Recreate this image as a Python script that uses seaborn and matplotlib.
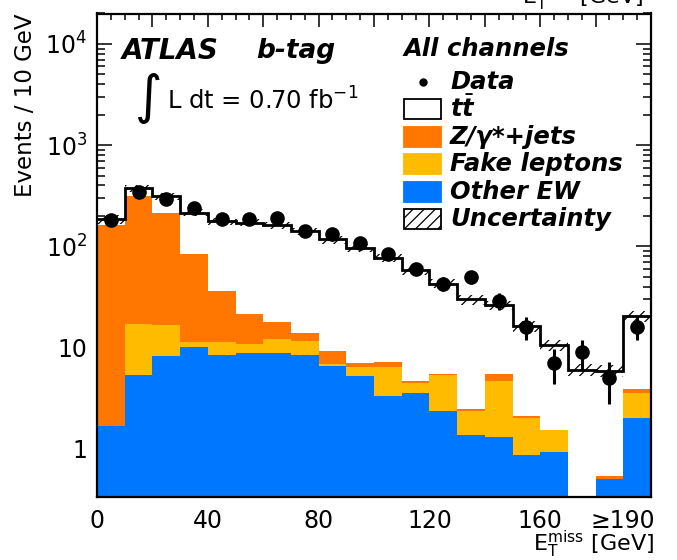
import matplotlib
matplotlib.use("Agg")
import numpy as np
import pandas as pd
import matplotlib.pyplot as plt
import seaborn as sns
from matplotlib.patches import Rectangle
from matplotlib.lines import Line2D
from matplotlib.ticker import (FixedLocator, FixedFormatter, MultipleLocator,
                               LogLocator, NullFormatter)

# ---------------- data ----------------
bin_edges = [0, 10, 20, 30, 40, 50, 60, 70, 80, 90, 100,
             110, 120, 130, 140, 150, 160, 170, 180, 190, 200]
other_ew = [1.69, 5.4, 8.3, 10.1, 8.4, 8.9, 8.9, 8.4, 6.6, 5.3,
            3.3, 3.6, 2.39, 1.38, 1.31, 0.87, 0.94, 0.0, 0.51, 2.01]
fake_leptons = [0.0, 11.9, 8.3, 1.3, 3.0, 1.9, 3.4, 3.2, 0.3, 1.2,
                3.1, 0.9, 3.0, 1.0, 3.4, 1.13, 0.6, 0.0, 0.0, 1.55]
z_jets = [160.3, 297.7, 195.4, 72.6, 25.3, 10.6, 5.7, 2.3, 2.4, 0.6,
          0.8, 0.2, 0.05, 0.12, 0.8, 0.1, 0.0, 0.0, 0.03, 0.37]
ttbar = [23.0, 60.0, 103.0, 131.0, 141.0, 151.0, 144.0, 128.0, 108.0, 90.0,
         70.0, 54.0, 37.5, 27.5, 20.7, 14.2, 9.0, 6.05, 5.4, 16.5]
data_counts = [182, 345, 292, 242, 188, 188, 189, 142, 133, 107,
               85, 60, 43, 50, 29, 16, 7, 9, 5, 16]
uncertainty_rel = [0.10, 0.09, 0.08, 0.08, 0.08, 0.08, 0.08, 0.08, 0.09, 0.09,
                   0.09, 0.10, 0.10, 0.11, 0.11, 0.12, 0.12, 0.13, 0.13, 0.12]

x_major_ticks = [0, 20, 40, 60, 80, 100, 120, 140, 160, 180, 200]
x_tick_labels = ["0", "", "40", "", "80", "", "120", "", "160", "", ""]
overflow_label = "\u2265190"
y_major_ticks = [1, 10, 100, 1000, 10000]
y_tick_labels = ["1", "10", r"$\mathregular{10^{2}}$", r"$\mathregular{10^{3}}$",
                 r"$\mathregular{10^{4}}$"]

component_names = ["tt", "Z/\u03b3*+jets", "Fake leptons", "Other EW"]
component_colors = ["#ffffff", "#ff7600", "#ffbb00", "#0077ff"]

# ---------------- style ----------------
sns.set_theme(style="ticks")
plt.rcParams["font.family"] = ["DejaVu Sans"]
plt.rcParams["mathtext.fontset"] = "custom"
plt.rcParams["mathtext.rm"] = "DejaVu Sans"
plt.rcParams["mathtext.it"] = "DejaVu Sans:italic:bold"
plt.rcParams["mathtext.bf"] = "DejaVu Sans:bold"
plt.rcParams["hatch.linewidth"] = 0.9
plt.rcParams["axes.linewidth"] = 1.6
plt.rcParams["text.color"] = "black"
plt.rcParams["axes.labelcolor"] = "black"
plt.rcParams["xtick.color"] = "black"
plt.rcParams["ytick.color"] = "black"

W, H = 677, 560
fig = plt.figure(figsize=(W / 100, H / 100), dpi=100)
ax = fig.add_axes([97 / W, 63 / H, 554 / W, 483.5 / H])

def fx(px):
    return px / W

def fy(py):
    return 1 - py / H

# ---------------- stacked histogram ----------------
centers = [(a + b) / 2 for a, b in zip(bin_edges[:-1], bin_edges[1:])]
rows = []
for name, vals in zip(component_names, [ttbar, z_jets, fake_leptons, other_ew]):
    for c, v in zip(centers, vals):
        rows.append({"x": c, "w": v, "comp": name})
df = pd.DataFrame(rows)

sns.histplot(data=df, x="x", weights="w", hue="comp", hue_order=component_names,
             multiple="stack", bins=bin_edges, element="step", fill=True,
             palette=dict(zip(component_names, component_colors)), alpha=1,
             linewidth=0, legend=False, ax=ax)

total = np.array(ttbar) + np.array(z_jets) + np.array(fake_leptons) + np.array(other_ew)
unc = np.array(uncertainty_rel)

ax.stairs(total * (1 + unc), bin_edges, baseline=total * (1 - unc), fill=True,
          hatch="///", facecolor="none", edgecolor="black", linewidth=0, zorder=3)
ax.stairs(total, bin_edges, baseline=None, color="black", linewidth=2.0, zorder=4)

counts = np.array(data_counts, dtype=float)
ax.errorbar(centers, counts, yerr=np.sqrt(counts), fmt="o", color="black",
            markersize=9.5, elinewidth=2.2, capsize=0, zorder=5)

# ---------------- axes ----------------
ax.set_yscale("log")
ax.set_xlim(0, 200)
ax.set_ylim(0.335, 2.0e4)
ax.xaxis.set_major_locator(FixedLocator(x_major_ticks))
ax.xaxis.set_major_formatter(FixedFormatter(x_tick_labels))
ax.xaxis.set_minor_locator(MultipleLocator(5))
ax.yaxis.set_major_locator(FixedLocator(y_major_ticks))
ax.yaxis.set_major_formatter(FixedFormatter(y_tick_labels))
ax.yaxis.set_minor_locator(LogLocator(base=10, subs=range(2, 10), numticks=20))
ax.yaxis.set_minor_formatter(NullFormatter())
ax.tick_params(which="both", direction="in", top=True, right=True, width=1.1,
               color="black")
ax.tick_params(axis="x", which="major", length=9, labelsize=17, pad=9)
ax.tick_params(axis="x", which="minor", length=4.5)
ax.tick_params(axis="y", which="major", length=11, labelsize=17, pad=7)
ax.tick_params(axis="y", which="minor", length=6)
for s in ax.spines.values():
    s.set_color("black")
    s.set_zorder(6)

ax.annotate(overflow_label, xy=(190, 0), xycoords=("data", "axes fraction"),
            xytext=(0, -9), textcoords="offset points", ha="center", va="top",
            fontsize=17)

xlabel = r"$\mathregular{E_{T}^{miss}}$ [GeV]"
ax.set_xlabel(xlabel, loc="right", fontsize=16)
ax.xaxis.label.set_verticalalignment("baseline")
ax.xaxis.set_label_coords(1.006, -0.1125)
ax.set_ylabel("Events / 10 GeV", loc="top", fontsize=16.5)
ax.yaxis.set_label_coords(-0.108, 1.0)

# clipped duplicate of the axis title at the very top of the canvas
fig.text(fx(643), fy(4), xlabel, ha="right", va="baseline", fontsize=16)

# ---------------- annotations ----------------
fig.text(fx(122), fy(51), "ATLAS", fontsize=20, fontweight="bold",
         fontstyle="italic", ha="left", va="center")
fig.text(fx(256), fy(51), "b-tag", fontsize=19, fontweight="bold",
         fontstyle="italic", ha="left", va="center")
fig.text(fx(135), fy(98), "\u222b", fontsize=38, ha="left", va="center")
fig.text(fx(167), fy(101), r"L dt = 0.70 fb$^{\mathregular{-1}}$", fontsize=17.5,
         ha="left", va="center")

# ---------------- legend (manual) ----------------
fig.text(fx(404), fy(49), "All channels", fontsize=17.5, fontweight="bold",
         fontstyle="italic", ha="left", va="center")
legend_rows = [
    ("Data", 82, None),
    (r"$t\bar{t}$", 109, ("#ffffff", None)),
    ("Z/\u03b3*+jets", 137, (component_colors[1], None)),
    ("Fake leptons", 164, (component_colors[2], None)),
    ("Other EW", 192, (component_colors[3], None)),
    ("Uncertainty", 219, ("#ffffff", "///")),
]
for label, yc, style in legend_rows:
    if style is None:
        fig.add_artist(Line2D([fx(423)], [fy(yc)], marker="o", markersize=5,
                              color="black", transform=fig.transFigure))
    else:
        face, hatch = style
        edge = "black" if face == "#ffffff" else face
        fig.add_artist(Rectangle((fx(404), fy(yc + 10)), 37 / W, 20 / H,
                                 facecolor=face, edgecolor=edge, hatch=hatch,
                                 linewidth=1.3, transform=fig.transFigure))
    fig.text(fx(450), fy(yc), label, fontsize=17.5, fontweight="bold",
             fontstyle="italic", ha="left", va="center")

fig.savefig("out.png", dpi=100)
